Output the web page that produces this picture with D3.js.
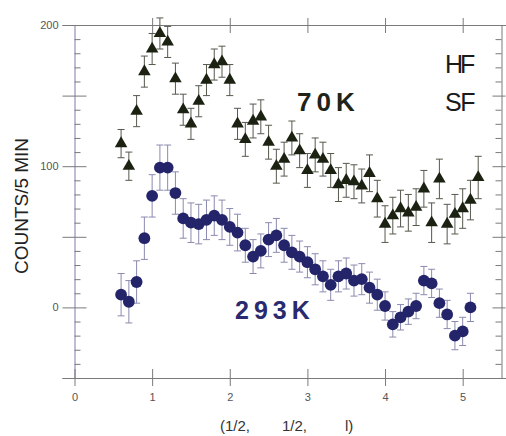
<!DOCTYPE html>
<html>
<head>
<meta charset="utf-8">
<script src="https://cdn.jsdelivr.net/npm/d3@7/dist/d3.min.js"></script>
<style>
  body { margin: 0; background: #fff; }
  svg { display: block; font-family: "Liberation Sans", Arial, Helvetica, sans-serif; }
</style>
</head>
<body>
<svg width="506" height="436"></svg>
<script>
// 70K spin-flip data (triangles)
var l70 = [0.6, 0.7, 0.8, 0.9, 1.0, 1.1, 1.2, 1.3, 1.4, 1.5, 1.6, 1.7, 1.8, 1.9, 2.0, 2.1,
           2.2, 2.3, 2.4, 2.5, 2.6, 2.7, 2.8, 2.9, 3.0, 3.1, 3.2, 3.3, 3.4, 3.5, 3.6, 3.7,
           3.8, 3.9, 4.0, 4.1, 4.2, 4.3, 4.4, 4.5, 4.6, 4.7, 4.8, 4.9, 5.0, 5.1, 5.2];
var counts70 = [116, 100, 139, 167, 183, 194, 188, 162, 140, 130, 146, 161, 172, 174, 161, 130,
                119, 132, 135, 117, 100, 105, 120, 111, 97, 108, 105, 97, 87, 90, 89, 86,
                95, 77, 59, 65, 70, 67, 71, 84, 60, 91, 59, 66, 70, 76, 92];
var err70 = [10, 10, 11, 11, 11, 11, 11, 11, 11, 11, 11, 11, 11, 11, 11, 11,
             12, 12, 12, 12, 12, 12, 12, 12, 12, 12, 12, 12, 12, 12, 12, 12,
             13, 13, 13, 13, 13, 13, 13, 13, 14, 14, 14, 14, 14, 14, 15];

// 293K data (circles)
var l293 = [0.6, 0.7, 0.8, 0.9, 1.0, 1.1, 1.2, 1.3, 1.4, 1.5, 1.6, 1.7, 1.8, 1.9, 2.0, 2.1,
            2.2, 2.3, 2.4, 2.5, 2.6, 2.7, 2.8, 2.9, 3.0, 3.1, 3.2, 3.3, 3.4, 3.5, 3.6, 3.7,
            3.8, 3.9, 4.0, 4.1, 4.2, 4.3, 4.4, 4.5, 4.6, 4.7, 4.8, 4.9, 5.0, 5.1];
var counts293 = [9, 4, 18, 49, 79, 99, 99, 81, 63, 60, 59, 62, 65, 62, 57, 53,
                 44, 36, 40, 48, 51, 44, 39, 36, 32, 27, 22, 16, 22, 24, 19, 20,
                 14, 9, 1, -12, -7, -3, 1, 19, 17, 3, -5, -20, -17, 0];
var err293 = [15, 15, 15, 15, 15, 16, 16, 15, 14, 14, 14, 14, 14, 14, 13, 13,
              12, 12, 12, 12, 12, 12, 12, 11, 11, 11, 11, 11, 11, 11, 11, 11,
              11, 11, 10, 9, 9, 9, 9, 10, 10, 10, 10, 10, 10, 10];

var xTicks = [0, 1, 2, 3, 4, 5];
var yLabelTicks = [0, 100, 200];

d3.select(window).on('load', init);

function init() {
    var svg = d3.select('svg');

    var x = d3.scaleLinear().domain([0, 5.5]).range([74.5, 501.5]);
    var y = d3.scaleLinear().domain([-50, 200]).range([378, 25]);

    var axisCol = '#7a7a7a';
    var majorY = d3.range(-50, 201, 50);
    var minorY = d3.range(-40, 200, 10).filter(function(v) { return v % 50 !== 0; });

    // left axis, minor ticks pointing inward
    var leftMinor = svg.append('g')
        .attr('transform', 'translate(' + x(0) + ',0)')
        .call(d3.axisLeft(y).tickValues(minorY).tickSize(6).tickFormat(''));
    leftMinor.selectAll('.tick line').attr('x1', 0).attr('x2', 6);

    // left axis, major crossing ticks + labels
    var left = svg.append('g')
        .attr('transform', 'translate(' + x(0) + ',0)')
        .call(d3.axisLeft(y).tickValues(majorY).tickSize(12).tickPadding(4)
            .tickFormat(function(d) { return yLabelTicks.indexOf(d) >= 0 ? d : ''; }));
    left.select('.domain').remove();
    left.selectAll('.tick line').attr('x2', -12).attr('x1', function(d) { return d === 200 || d === -50 ? 0 : 12; });
    left.selectAll('.tick text').attr('font-size', 11).attr('fill', '#555');

    // right axis
    var rightMinor = svg.append('g')
        .attr('transform', 'translate(' + x(5.5) + ',0)')
        .call(d3.axisRight(y).tickValues(minorY).tickSize(6).tickFormat(''));
    rightMinor.selectAll('.tick line').attr('x1', 0).attr('x2', -6);
    var right = svg.append('g')
        .attr('transform', 'translate(' + x(5.5) + ',0)')
        .call(d3.axisRight(y).tickValues(majorY.slice(1, -1)).tickSize(6).tickFormat(''));
    right.select('.domain').remove();
    right.selectAll('.tick line').attr('x1', -9).attr('x2', 4);

    // bottom axis
    var bottom = svg.append('g')
        .attr('transform', 'translate(0,' + y(-50) + ')')
        .call(d3.axisBottom(x).tickValues(xTicks).tickSize(8).tickPadding(7).tickSizeOuter(0)
            .tickFormat(d3.format('d')));
    bottom.selectAll('.tick line').attr('y1', -9);
    bottom.selectAll('.tick text').attr('font-size', 11).attr('fill', '#555');
    bottom.select('.domain').attr('d', 'M' + (x(0) - 12) + ',0.5H' + (x(5.5) + 2));

    // top axis
    var top = svg.append('g')
        .attr('transform', 'translate(0,' + y(200) + ')')
        .call(d3.axisTop(x).tickValues(xTicks.slice(1)).tickSize(7).tickSizeOuter(0).tickFormat(''));
    top.selectAll('.tick line').attr('y1', 8);
    top.select('.domain').attr('d', 'M' + (x(0) - 12) + ',0.5H' + (x(5.5) + 1));

    svg.selectAll('.tick line, .domain').attr('stroke', axisCol);
    leftMinor.select('.domain').attr('stroke', '#7b7bab');

    var d70 = l70.map(function(l, i) { return {l: l, v: counts70[i], e: err70[i]}; });
    var d293 = l293.map(function(l, i) { return {l: l, v: counts293[i], e: err293[i]}; });

    function errorBars(data, colour) {
        var g = svg.append('g').attr('stroke', colour).attr('stroke-width', 1).attr('fill', 'none');
        g.selectAll('path')
            .data(data)
            .enter().append('path')
            .attr('d', function(d) {
                var cx = x(d.l), t = y(d.v + d.e), b = y(d.v - d.e);
                return 'M' + cx + ',' + t + 'V' + b +
                       'M' + (cx - 3.5) + ',' + t + 'H' + (cx + 3.5) +
                       'M' + (cx - 3.5) + ',' + b + 'H' + (cx + 3.5);
            });
    }

    errorBars(d70, '#55594c');
    errorBars(d293, '#8a8ab0');

    // triangles
    svg.append('g').selectAll('path')
        .data(d70)
        .enter().append('path')
        .attr('transform', function(d) { return 'translate(' + x(d.l) + ',' + y(d.v) + ')'; })
        .attr('d', d3.symbol().type(d3.symbolTriangle).size(68))
        .attr('fill', '#1b2212');

    // circles
    svg.append('g').selectAll('circle')
        .data(d293)
        .enter().append('circle')
        .attr('cx', function(d) { return x(d.l); })
        .attr('cy', function(d) { return y(d.v); })
        .attr('r', 5.9)
        .attr('fill', '#24246a');

    // annotations
    svg.append('text')
        .attr('x', 297).attr('y', 111)
        .attr('font-size', 26).attr('font-weight', 'bold')
        .attr('letter-spacing', 5)
        .attr('fill', '#1e2417')
        .text('70K');

    svg.append('text')
        .attr('x', 235).attr('y', 319)
        .attr('font-size', 25).attr('font-weight', 'bold')
        .attr('letter-spacing', 5)
        .attr('fill', '#2a2a70')
        .text('293K');

    svg.append('text')
        .attr('x', 445).attr('y', 73)
        .attr('font-size', 25).attr('letter-spacing', -3)
        .attr('fill', '#1a1a1a')
        .text('HF');

    svg.append('text')
        .attr('x', 445).attr('y', 111)
        .attr('font-size', 25).attr('letter-spacing', -1.5)
        .attr('fill', '#1a1a1a')
        .text('SF');

    // y label
    svg.append('text')
        .attr('transform', 'translate(28,206) rotate(-90)')
        .attr('text-anchor', 'middle')
        .attr('font-size', 19)
        .attr('fill', '#222')
        .text('COUNTS/5 MIN');

    // x label
    var xl = svg.append('text')
        .attr('y', 431)
        .attr('font-size', 15)
        .attr('fill', '#333');
    xl.append('tspan').attr('x', 220).text('(1/2,');
    xl.append('tspan').attr('x', 282).text('1/2,');
    xl.append('tspan').attr('x', 345).text('l)');
}
</script>
</body>
</html>
